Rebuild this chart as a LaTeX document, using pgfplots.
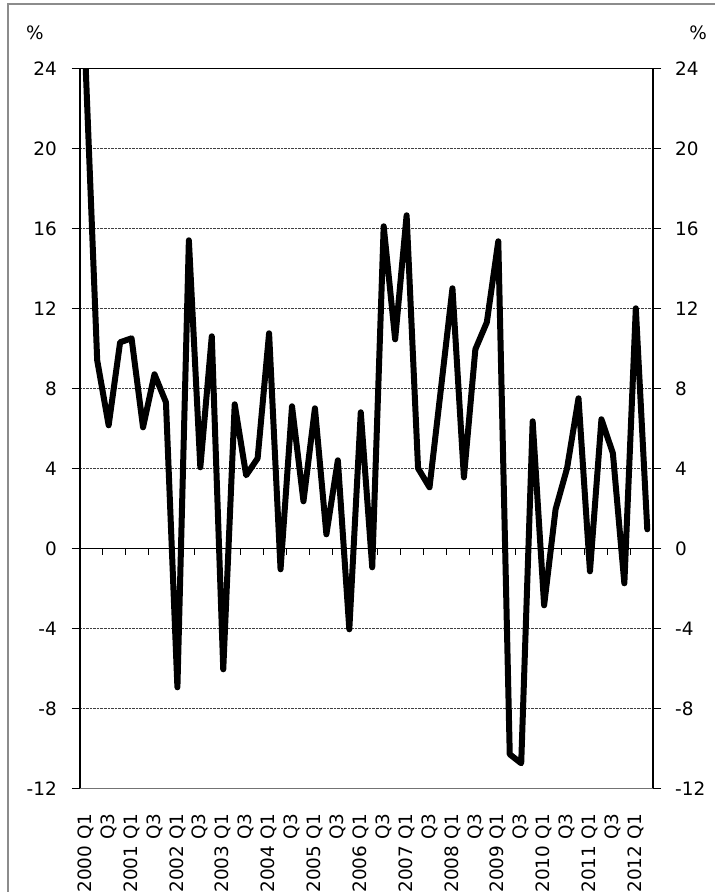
\documentclass[border=0pt]{standalone}
\usepackage{fontspec}
\setmainfont{DejaVu Sans}
\usepackage{pgfplots}
\pgfplotsset{compat=1.18}
\pgfplotstableread{
x y
0 24
1 9.4
2 6.15
3 10.3
4 10.5
5 6.05
6 8.7
7 7.3
8 -6.95
9 15.4
10 4.05
11 10.6
12 -6.05
13 7.2
14 3.65
15 4.5
16 10.75
17 -1.05
18 7.1
19 2.35
20 7.0
21 0.7
22 4.4
23 -4.05
24 6.8
25 -0.95
26 16.1
27 10.45
28 16.65
29 4.0
30 3.05
31 8.0
32 13.0
33 3.55
34 9.95
35 11.3
36 15.35
37 -10.3
38 -10.75
39 6.35
40 -2.85
41 1.95
42 4.0
43 7.5
44 -1.15
45 6.45
46 4.75
47 -1.75
48 12.0
49 0.95
}\datatable
\begin{document}
\begin{tikzpicture}
\useasboundingbox (-80bp,-103.7bp) rectangle (635bp,788.3bp);
\draw[black!45, line width=1.5bp] (-72bp,-110bp) -- (-72bp,784.3bp) -- (640bp,784.3bp);
\node[font=\fontsize{18.5}{20}\selectfont, inner sep=0pt] at (-45bp,755.3bp) {\%};
\node[font=\fontsize{18.5}{20}\selectfont, inner sep=0pt] at (618bp,755.3bp) {\%};
\begin{axis}[
  at={(0,0)}, anchor=south west,
  scale only axis, width=573bp, height=720bp,
  xmin=-0.5, xmax=49.5, ymin=-12, ymax=24,
  ytick={-12,-8,...,24},
  xtick={0,2,...,48},
  xticklabels={2000 Q1,Q3,2001 Q1,Q3,2002 Q1,Q3,2003 Q1,Q3,2004 Q1,Q3,2005 Q1,Q3,2006 Q1,Q3,2007 Q1,Q3,2008 Q1,Q3,2009 Q1,Q3,2010 Q1,Q3,2011 Q1,Q3,2012 Q1},
  xtick style={draw=none},
  ytick pos=both,
  yticklabel pos=left,
  tick align=outside,
  major tick length=8bp,
  ytick style={black, line width=1bp},
  ymajorgrids,
  grid style={densely dotted, black!75, line width=0.8bp},
  separate axis lines,
  x axis line style={black!55, line width=1.2bp},
  y axis line style={black, line width=1.2bp},
  tick label style={font=\fontsize{18.5}{20}\selectfont},
  /pgf/number format/assume math mode=true,
  yticklabel style={anchor=east, inner sep=0pt, xshift=-15bp},
  xticklabel style={yshift=-17bp, rotate=90, anchor=east, inner sep=0pt},
  extra y ticks={0,24},
  extra y tick labels={},
  extra y tick style={grid style={solid, black, line width=1.3bp}},
]
\addplot[black, line width=6bp, line join=round, line cap=round, mark=none] table[x=x, y=y] {\datatable};
\pgfplotsinvokeforeach{1.5,3.5,...,47.5}{\draw[black, line width=1bp] (axis cs:#1,0) -- ++(0pt,-7bp);}
\end{axis}
\begin{axis}[
  at={(0,0)}, anchor=south west,
  scale only axis, width=573bp, height=720bp,
  xmin=-0.5, xmax=49.5, ymin=-12, ymax=24,
  axis x line=none, axis y line*=right,
  y axis line style={draw=none},
  ytick={-12,-8,...,24},
  ytick style={draw=none},
  major tick length=0pt,
  tick label style={font=\fontsize{18.5}{20}\selectfont},
  /pgf/number format/assume math mode=true,
  yticklabel style={anchor=west, inner sep=0pt, xshift=22bp},
]
\end{axis}
\end{tikzpicture}
\end{document}
